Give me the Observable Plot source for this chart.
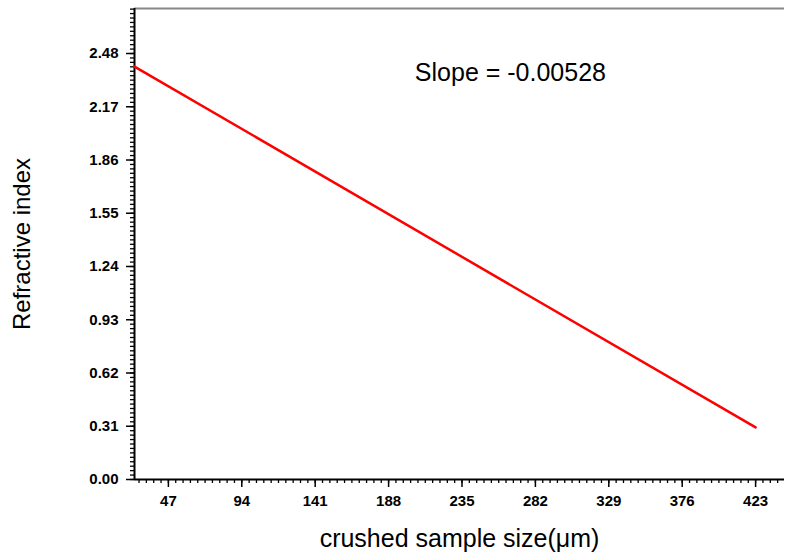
<!DOCTYPE html>
<html>
<head>
<meta charset="utf-8">
<script src="https://cdn.jsdelivr.net/npm/d3@7"></script>
<script src="https://cdn.jsdelivr.net/npm/@observablehq/plot@0.6"></script>
<style>
  html, body { margin: 0; padding: 0; background: #fff; }
  svg { font-family: "Liberation Sans", Arial, sans-serif; }
  g[aria-label="x-axis tick label"], g[aria-label="y-axis tick label"],
  g[aria-label="x-axis tick label"] text, g[aria-label="y-axis tick label"] text { font-size: 15px !important; font-weight: bold; }
  g[aria-label="x-axis label"] { font-size: 25px !important; }
  g[aria-label="y-axis label"] { font-size: 24px !important; }
</style>
</head>
<body>
<div id="chart"></div>
<script>
// Data
const sizes = [25.3, 423];
const refractive = [2.404, 0.303];
const xTicks = [47, 94, 141, 188, 235, 282, 329, 376, 423];
const yTicks = [0.00, 0.31, 0.62, 0.93, 1.24, 1.55, 1.86, 2.17, 2.48];
const xDomain = [25.3, 441.5];
const yDomain = [0, 2.742];
const annotation = [{x: 266, y: 2.364, text: "Slope = -0.00528"}];

const lineData = sizes.map((s, i) => ({x: s, y: refractive[i]}));
const xMinor = d3.range(0, 460, 4.7).filter(v => v >= xDomain[0] && v <= xDomain[1]);
const yMinor = d3.range(0, 2.75, 0.31 / 12).filter(v => v <= yDomain[1]);

const chart = Plot.plot({
  width: 785,
  height: 556,
  marginLeft: 134,
  marginRight: 1,
  marginTop: 8,
  marginBottom: 77,
  style: {fontFamily: "Liberation Sans, Arial, sans-serif", color: "#000", background: "#fff"},
  x: {domain: xDomain},
  y: {domain: yDomain},
  marks: [
    // minor ticks
    Plot.axisX({ticks: xMinor, tickSize: 4, text: null, label: null, strokeWidth: 1.3}),
    Plot.axisY({ticks: yMinor, tickSize: 4, text: null, label: null, strokeWidth: 1.3}),
    // major ticks with labels
    Plot.axisX({ticks: xTicks, tickSize: 8, tickPadding: 8, tickFormat: d3.format("d"),
      label: null, strokeWidth: 1.5}),
    Plot.axisY({ticks: yTicks, tickSize: 8, tickPadding: 8, tickFormat: d3.format(".2f"),
      label: null, strokeWidth: 1.5}),
    // axis titles
    Plot.axisX({ticks: [], tickSize: 0, label: "crushed sample size(μm)", labelAnchor: "center",
      labelArrow: "none", labelOffset: 67}),
    Plot.axisY({ticks: [], tickSize: 0, label: "Refractive index", labelAnchor: "center",
      labelArrow: "none", labelOffset: 122}),
    // frame lines
    Plot.ruleY([yDomain[1]], {stroke: "#888", strokeWidth: 2}),
    Plot.ruleX([xDomain[0]], {stroke: "#000", strokeWidth: 2}),
    Plot.ruleY([0], {stroke: "#000", strokeWidth: 2}),
    // data
    Plot.line(lineData, {x: "x", y: "y", stroke: "#ff0000", strokeWidth: 2.5}),
    Plot.text(annotation, {x: "x", y: "y", text: "text", fontSize: 25, fill: "#000"})
  ]
});
document.getElementById("chart").appendChild(chart);
</script>
</body>
</html>
